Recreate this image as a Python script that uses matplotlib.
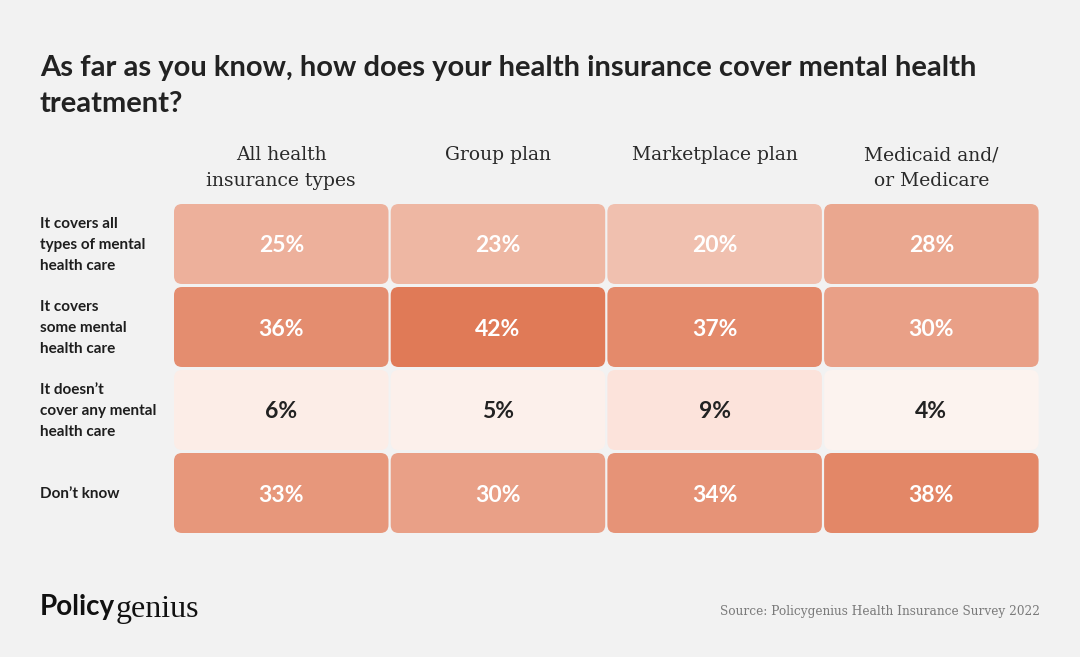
import matplotlib
matplotlib.use("Agg")
import matplotlib.pyplot as plt
from matplotlib.patches import FancyBboxPatch
from matplotlib.colors import Normalize

# ---------------- data ----------------
title = "As far as you know, how does your health insurance cover mental health\ntreatment?"
columns = ["All health\ninsurance types", "Group plan", "Marketplace plan", "Medicaid and/\nor Medicare"]
rows = ["It covers all\ntypes of mental\nhealth care",
        "It covers\nsome mental\nhealth care",
        "It doesn\u2019t\ncover any mental\nhealth care",
        "Don\u2019t know"]
all_types   = [25, 36, 6, 33]
group_plan  = [23, 42, 5, 30]
marketplace = [20, 37, 9, 34]
medicaid    = [28, 30, 4, 38]
series = [all_types, group_plan, marketplace, medicaid]
source = "Source: Policygenius Health Insurance Survey 2022"

# ---------------- style ----------------
BG = "#F2F2F2"
norm = Normalize(vmin=4, vmax=42)
SANS = ["Lato", "DejaVu Sans"]
SERIF = ["DejaVu Serif"]

W, H = 1080, 657
fig = plt.figure(figsize=(W / 100, H / 100), dpi=100, facecolor=BG)
ax = fig.add_axes([0, 0, 1, 1])
ax.set_xlim(0, W)
ax.set_ylim(H, 0)
ax.axis("off")
ax.set_facecolor(BG)

# grid geometry (pixels)
x0, y0 = 174, 204
col_pitch, row_pitch = 216.7, 83
cw, ch = 214.5, 80
rad = 8

def cell_color(v):
    t = norm(v)
    lo = (252, 243, 239); hi = (224, 122, 87)
    rgb = [lo[k] + (hi[k] - lo[k]) * t for k in range(3)]
    # light cells keep a pinker tone
    rgb[0] = min(252, rgb[0] + 4 * (1 - abs(2 * t - 0.3)) if t < 0.3 else rgb[0])
    return [c / 255 for c in rgb]

for ci, vals in enumerate(series):
    for ri, v in enumerate(vals):
        x = x0 + ci * col_pitch
        y = y0 + ri * row_pitch
        p = FancyBboxPatch((x + rad, y + rad), cw - 2 * rad, ch - 2 * rad,
                           boxstyle=f"round,pad={rad},rounding_size={rad}",
                           facecolor=cell_color(v), edgecolor="none")
        ax.add_patch(p)
        col = "white" if v >= 15 else "#222222"
        ax.text(x + cw / 2, y + ch / 2 + 2, f"{v}%", ha="center", va="center",
                fontsize=16.5, fontweight="bold", color=col, family=SANS)

# column headers
for ci, name in enumerate(columns):
    cx = x0 + ci * col_pitch + cw / 2
    ax.text(cx, 146, name, ha="center", va="top", fontsize=13.5, color="#2a2a2a",
            family=SERIF, linespacing=1.55)

# row labels
for ri, name in enumerate(rows):
    cy = y0 + ri * row_pitch + ch / 2
    ax.text(40, cy + 1, name, ha="left", va="center", fontsize=11, fontweight="bold",
            color="#1e1e1e", family=SANS, linespacing=1.6)

# title
ax.text(40, 55, title, ha="left", va="top", fontsize=21, fontweight="bold",
        color="#222222", family=SANS, linespacing=1.5)

# logo
t1 = ax.text(40, 607, "Policy", ha="left", va="center", fontsize=20, fontweight="bold",
             color="#111111", family=SANS)
fig.canvas.draw()
bb = t1.get_window_extent(renderer=fig.canvas.get_renderer())
x_end = bb.x1 / fig.dpi * 100
ax.text(x_end, 609, "genius", ha="left", va="center", fontsize=23,
        color="#111111", family=["Liberation Serif"])

# source
ax.text(1040, 612, source, ha="right", va="center", fontsize=8.7, color="#7a7a7a",
        family=SERIF)

fig.savefig("out.png", dpi=100, facecolor=BG)
